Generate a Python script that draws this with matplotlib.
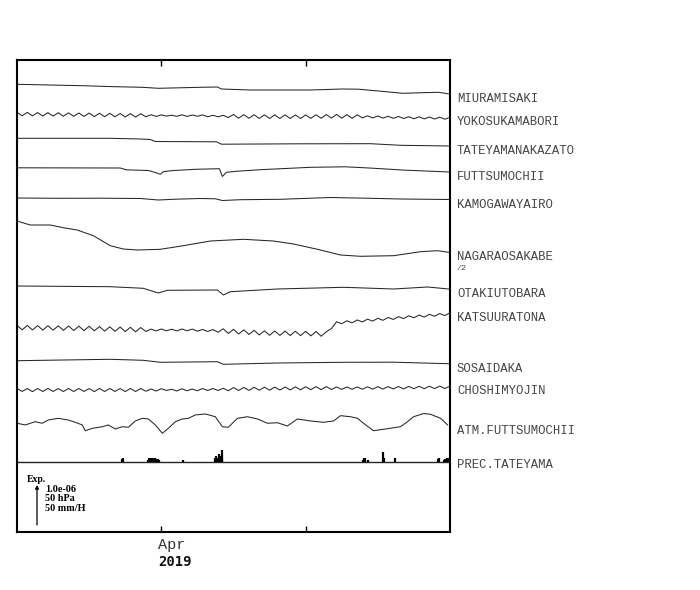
import numpy as np
import matplotlib
matplotlib.use('Agg')
import matplotlib.pyplot as plt
from matplotlib.transforms import blended_transform_factory

# ---------------------------------------------------------------------------
# data (time in days relative to 2019-04-01 00:00)
# strain channels are in read-off units of 1.25e-8 (80 units = 1.0e-06)
# ---------------------------------------------------------------------------
half_days = np.arange(-14, 28.25, 0.5)

miura_days = [-14, -7.67, -4.47, -1.84, -0.29, 3.79, 5.44, 5.83, 8.64, 14.47,
              17.57, 19.13, 21.07, 23.4, 25.34, 26.89, 27.96]
miura_vals = [0, -2.8, -4.8, -6, -8, -6, -5.4, -9.4, -11.4, -11.4,
              -9.4, -9.8, -13.4, -18, -16.8, -16, -19.4]

yokosuka_vals = [3.4, -3.5, 3.2, -3.8, 2.9, -4.0, 2.7, -4.2, 2.5, -4.4,
                 2.3, -4.7, 2.0, -4.9, 1.8, -5.1, 1.5, -5.4, 1.3, -5.6,
                 1.0, -5.9, 0.8, -6.1, 0.5, -5.6, -1.5, -4.8, -1.8, -4.2,
                 -2.4, -4.6, -1.6, -4.8, -2.0, -4.6, -1.8, -5.5, -2.5, -5.6,
                 -2.6, -7.0, -1.0, -8.4, -1.3, -8.6, -1.5, -8.9, -1.8, -9.0,
                 -1.8, -9.0, -1.8, -9.0, -1.8, -9.0, -1.8, -8.8, -1.5, -8.5,
                 -1.1, -8.2, -0.8, -8.4, -1.2, -8.8, -1.6, -7.8, -3.6, -7.8,
                 -4.0, -8.2, -4.5, -8.7, -4.9, -9.1, -5.4, -9.5, -5.7, -9.8,
                 -6.0, -10.1, -6.3, -10.4, -6.6]

tateyama_days = [-14, -4.95, -2.04, -1.07, -0.58, 5.34, 5.83, 13.5, 20.29, 23.2, 27.96]
tateyama_vals = [0, 0, -1.4, -2.4, -6.4, -7, -11.8, -11, -10.8, -14, -15.4]

futtsu_days = [-14, -3.98, -3.4, -1.26, -0.58, -0.1, 0.19, 1.07, 3.3, 5.63,
               5.92, 6.31, 7.38, 9.61, 14.47, 17.86, 20.49, 23.69, 27.96]
futtsu_vals = [0, -0.4, -4, -5.4, -9.4, -13, -7.8, -5.6, -3, -1.8,
               -17.4, -9, -6.8, -3.8, 1, 2, -0.8, -4.8, -8.4]

kamogawa_days = [-14, -9.81, -5.92, -2.04, -0.29, 1.36, 3.79, 5.24, 5.92, 7.67,
                 11.55, 16.41, 20.29, 23.2, 27.96]
kamogawa_vals = [0, -0.6, -0.4, -1, -4, -2.4, -1, -1.6, -5, -3.4,
                 -2.6, 1, -0.6, -2, -3]

nagara_days = [-14, -12.72, -10.78, -9.51, -8.16, -6.6, -4.95, -3.69, -2.33, -0.1,
               2.14, 4.76, 7.96, 10.87, 12.82, 15.15, 17.38, 19.32, 22.52, 25.15,
               26.8, 27.86]
nagara_vals = [0, -16, -16, -26.8, -36, -58.8, -98.8, -112, -116, -113.2,
               -98.8, -80, -73.2, -80, -92, -113.2, -136, -141.2, -138.8, -122.8,
               -118.8, -125.2]

otaki_days = [-14, -4.95, -1.75, -0.29, 0.58, 5.44, 6.02, 6.7, 11.26, 17.67,
              22.52, 25.83, 27.86]
otaki_vals = [0, -1.4, -4.6, -14, -8.6, -8, -18, -11.4, -6, -2.6, -6, -2, -6]

katsuura_vals = [4.4, -4.6, 4.1, -4.9, 3.8, -5.2, 3.5, -5.4, 3.3, -5.7,
                 3.0, -6.0, 2.7, -6.3, 2.4, -6.6, 1.9, -7.2, 1.4, -7.7,
                 0.9, -8.2, 0.4, -8.7, -0.1, -8.0, -3.2, -6.8, -3.0, -6.6,
                 -3.4, -6.8, -3.0, -6.6, -3.2, -7.4, -3.9, -8.0, -4.0, -9.5,
                 -2.6, -11.9, -3.6, -12.9, -4.6, -13.9, -5.6, -14.9, -6.6, -15.6,
                 -6.9, -15.8, -7.1, -16.1, -7.4, -16.3, -7.6, -16.7, -8.1, -17.4,
                 -8.6, -2.0, 11.4, 7.6, 13.4, 9.4, 15.1, 11.1, 16.7, 12.8,
                 18.4, 14.4, 20.1, 16.1, 21.7, 17.8, 23.4, 19.4, 24.9, 20.9,
                 26.4, 22.4, 27.9, 23.9, 29.4]

sosai_days = [-14, -4.95, -1.75, -0.1, 5.44, 6.02, 11.26, 17.67, 22.52, 27.86]
sosai_vals = [0, 2.8, 0.8, -3.2, -2, -7.2, -4.6, -3.2, -3, -6]

choshi_vals = [3.2, -2.8, 2.8, -3.2, 3.0, -3.0, 3.2, -2.9, 2.9, -3.1,
               3.1, -3.0, 3.0, -2.8, 2.8, -3.2, 3.1, -3.0, 3.0, -2.9,
               2.9, -3.1, 3.1, -3.0, 3.0, -2.5, 2.0, -2.0, 2.5, -1.0,
               1.5, -2.0, 2.5, -1.5, 2.0, -1.5, 3.0, -1.0, 3.0, -1.0,
               3.5, -1.5, 4.9, -1.0, 5.1, -0.8, 5.4, -0.5, 5.6, -0.3,
               5.8, -0.1, 6.0, 0.2, 6.3, 0.4, 6.5, 0.6, 6.7, 0.8,
               6.8, 1.0, 6.0, 1.3, 6.1, 1.4, 6.2, 1.5, 6.4, 1.7,
               6.6, 1.9, 6.8, 2.1, 7.0, 2.3, 7.2, 2.5, 7.4, 2.6,
               7.5, 2.8, 7.7, 3.0, 7.8]

# atmospheric pressure at FUTTSUMOCHII [hPa]
atm_days = [-13.98, -13.2, -12.23, -11.55, -10.97, -10.0, -9.03, -8.35, -7.67, -7.38,
            -6.7, -5.73, -5.15, -4.47, -3.79, -3.2, -2.52, -1.84, -1.26, -0.58,
            0.1, 0.68, 1.36, 2.04, 2.62, 3.3, 4.27, 5.24, 5.92, 6.5,
            7.38, 8.35, 9.32, 10.29, 11.26, 12.23, 13.2, 14.47, 15.73, 16.7,
            17.38, 18.35, 19.03, 19.61, 20.58, 21.55, 23.2, 23.88, 24.47, 25.44,
            26.12, 27.09, 27.77]
atm_hpa = [1010.9, 1008.8, 1012.9, 1010.9, 1015.0, 1017.1, 1015.0, 1012.1, 1008.8, 1001.6,
           1004.6, 1006.6, 1008.8, 1003.8, 1006.6, 1005.9, 1013.8, 1017.1, 1016.3, 1008.8,
           998.4, 1004.6, 1012.9, 1016.3, 1017.1, 1021.3, 1022.5, 1019.1, 1006.6, 1005.9,
           1017.1, 1019.1, 1016.3, 1010.9, 1011.6, 1007.5, 1016.3, 1013.8, 1012.1, 1013.8,
           1020.4, 1019.1, 1017.1, 1010.9, 1001.6, 1003.4, 1006.6, 1012.9, 1019.1, 1023.1,
           1022.1, 1017.1, 1008.8]
ATM_REF = 1015.0

# hourly precipitation at TATEYAMA [mm/H]
prec_days = [-3.79, -3.7, -1.3, -1.2, -1.1, -1.0, -0.9, -0.8, -0.7, -0.6,
             -0.5, -0.4, -0.3, -0.2, 2.14, 5.2, 5.3, 5.4, 5.55, 5.7,
             5.85, 5.9, 19.6, 19.7, 19.8, 20.0, 21.5, 21.6, 22.7, 26.8,
             26.9, 27.4, 27.5, 27.7, 27.9]
prec_mm = [3.1, 3.8, 2.5, 3.8, 3.8, 3.1, 3.8, 3.8, 3.1, 3.8,
           3.1, 2.5, 3.1, 2.5, 1.3, 3.8, 6.3, 5.0, 8.8, 7.5,
           15.0, 5.0, 2.5, 4.4, 3.8, 2.5, 11.9, 3.8, 3.8, 3.1,
           3.8, 2.5, 3.1, 3.8, 3.8]

# ---------------------------------------------------------------------------
# layout
# ---------------------------------------------------------------------------
W, H = 700, 590
AX_L, AX_R, AX_T, AX_B = 17, 450, 60, 532
EXP_PX = 40                     # length of the scale arrow in pixels
STRAIN_GAIN = EXP_PX / 80.0     # px per strain unit
HPA_GAIN = EXP_PX / 50.0        # px per hPa
MM_GAIN = EXP_PX / 50.0         # px per mm/H

strain_traces = [
    ('MIURAMISAKI', miura_days, miura_vals, 1, 24.3),
    ('YOKOSUKAMABORI', half_days, yokosuka_vals, 1, 54.0),
    ('TATEYAMANAKAZATO', tateyama_days, tateyama_vals, 1, 78.3),
    ('FUTTSUMOCHII', futtsu_days, futtsu_vals, 1, 107.8),
    ('KAMOGAWAYAIRO', kamogawa_days, kamogawa_vals, 1, 138.0),
    ('NAGARAOSAKABE', nagara_days, nagara_vals, 2, 161.0),
    ('OTAKIUTOBARA', otaki_days, otaki_vals, 1, 226.0),
    ('KATSUURATONA', half_days, katsuura_vals, 1, 267.5),
    ('SOSAIDAKA', sosai_days, sosai_vals, 1, 300.7),
    ('CHOSHIMYOJIN', half_days, choshi_vals, 1, 330.0),
]
ATM_BASE = 360.0
PREC_BASE = 401.5

LINE_C = '#262626'
LABEL_FONT = dict(family='Liberation Mono', size=8.8, color='#444444')

fig = plt.figure(figsize=(W / 100, H / 100), dpi=100)
ax = fig.add_axes([AX_L / W, 1 - AX_B / H, (AX_R - AX_L) / W, (AX_B - AX_T) / H])
ax.set_xlim(-14, 28)
ax.set_ylim(AX_B - AX_T, 0)

lbl_tr = blended_transform_factory(ax.transAxes, ax.transData)
LBL_X = (457 - AX_L) / (AX_R - AX_L)

for name, d, v, div, base in strain_traces:
    y = base - np.asarray(v, dtype=float) / div * STRAIN_GAIN
    ax.plot(d, y, color=LINE_C, lw=0.75)
    ax.text(LBL_X, y[-1] + 5, name, transform=lbl_tr, va='center', ha='left',
            clip_on=False, **LABEL_FONT)
    if div != 1:
        ax.text(LBL_X, y[-1] + 16, f'/{div}', transform=lbl_tr, va='center', ha='left',
                clip_on=False, family='Liberation Mono', size=6, color='#444444')

y_atm = ATM_BASE - (np.asarray(atm_hpa) - ATM_REF) * HPA_GAIN
ax.plot(atm_days, y_atm, color=LINE_C, lw=0.75)
ax.text(LBL_X, y_atm[-1] + 6, 'ATM.FUTTSUMOCHII', transform=lbl_tr, va='center',
        ha='left', clip_on=False, **LABEL_FONT)

ax.axhline(PREC_BASE, color=LINE_C, lw=1.0)
ax.vlines(prec_days, PREC_BASE, PREC_BASE - np.asarray(prec_mm) * MM_GAIN,
          color='black', lw=1.6)
ax.text(LBL_X, PREC_BASE + 4, 'PREC.TATEYAMA', transform=lbl_tr, va='center',
        ha='left', clip_on=False, **LABEL_FONT)

# ticks / frame
ax.set_xticks([0, 14])
ax.set_xticklabels(['', ''])
ax.set_yticks([])
ax.tick_params(axis='x', direction='in', length=4, width=1, top=True, bottom=True)
for sp in ax.spines.values():
    sp.set_linewidth(1.5)


def axpos(x, y):
    return ((x - AX_L) / (AX_R - AX_L), 1 - (y - AX_T) / (AX_B - AX_T))


fig.text(158 / W, 1 - 545 / H, 'Apr', family='Liberation Mono', size=11,
         ha='left', va='center', color='#333333')
fig.text(158 / W, 1 - 562 / H, '2019', family='DejaVu Sans Mono', weight='bold',
         size=10, ha='left', va='center', color='#111111')

# scale legend
ax.text(*axpos(27, 479), 'Exp.', transform=ax.transAxes, family='Liberation Serif',
        weight='bold', size=7, ha='left', va='center')
for txt, yy in [('1.0e-06', 489), ('50 hPa', 498.5), ('50 mm/H', 508.5)]:
    ax.text(*axpos(45, yy), txt, transform=ax.transAxes, family='Liberation Serif',
            weight='bold', size=7.3, ha='left', va='center')
ax.annotate('', xy=axpos(37, 525 - EXP_PX), xytext=axpos(37, 525),
            xycoords='axes fraction', textcoords='axes fraction',
            arrowprops=dict(arrowstyle='-|>', lw=0.9, color='black',
                            mutation_scale=5, shrinkA=0, shrinkB=0))

fig.savefig('out.png', dpi=100)
